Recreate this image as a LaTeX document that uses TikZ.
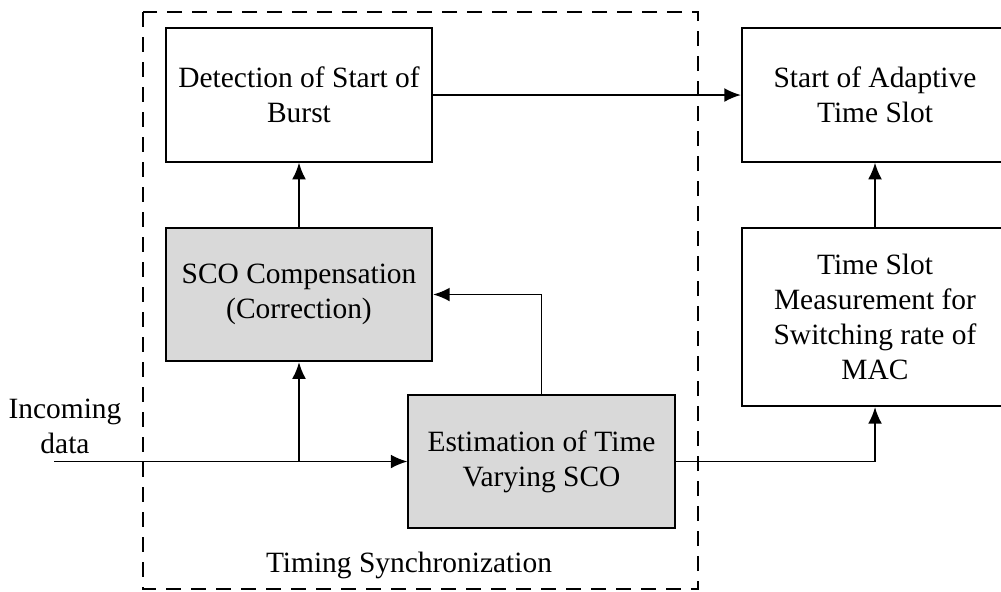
\documentclass[tikz,border=0pt]{standalone}
\usepackage{fontspec}
\setmainfont{Liberation Serif}
\usetikzlibrary{arrows.meta}

\tikzset{
  blk/.style={draw, line width=0.7pt, minimum width=95.8pt, minimum height=48pt,
    align=center, inner sep=2pt, font=\fontsize{10.6}{12.6}\selectfont},
  shaded/.style={blk, fill=gray!30},
  flow/.style={-{Latex[length=6pt,width=5pt]}, line width=0.7pt},
}

\begin{document}
\begin{tikzpicture}[x=0.36pt,y=-0.36pt]
   \useasboundingbox (0,0) rectangle (1001,591);
   \clip (0,0) rectangle (1001,591);

   % timing synchronization frame
   \draw[line width=0.7pt, dash pattern=on 5.4pt off 3.6pt] (143,12) rectangle (698,589);
   \node[font=\fontsize{10.6}{12.6}\selectfont] (sync) at (409,565) {Timing Synchronization};

   \node[blk] (detect) at (299,95) {Detection of Start of\\Burst};
   \node[blk] (slot) at (875,95) {Start of Adaptive\\Time Slot};
   \node[shaded] (sco) at (299,294.5) {SCO Compensation\\(Correction)};
   \node[blk, minimum height=64.1pt] (meas) at (875,317) {Time Slot\\Measurement for\\Switching rate of\\MAC};
   \node[shaded] (est) at (541.5,461.5) {Estimation of Time\\Varying SCO};

   \node[align=center, font=\fontsize{10.6}{12.6}\selectfont] (in) at (65,426) {Incoming\\data};
   \coordinate (start) at (54,461.5);
   \coordinate (split) at (299,461.5);

   \draw[flow] (start) -- (est.west);
   \draw[flow] (split) -- (sco.south);
   \draw[flow] (sco) -- (detect);
   \draw[flow] (est.north) |- (sco.east);
   \draw[flow] (detect) -- (slot);
   \draw[flow] (est.east) -| (meas.south);
   \draw[flow] (meas) -- (slot);
\end{tikzpicture}
\end{document}
